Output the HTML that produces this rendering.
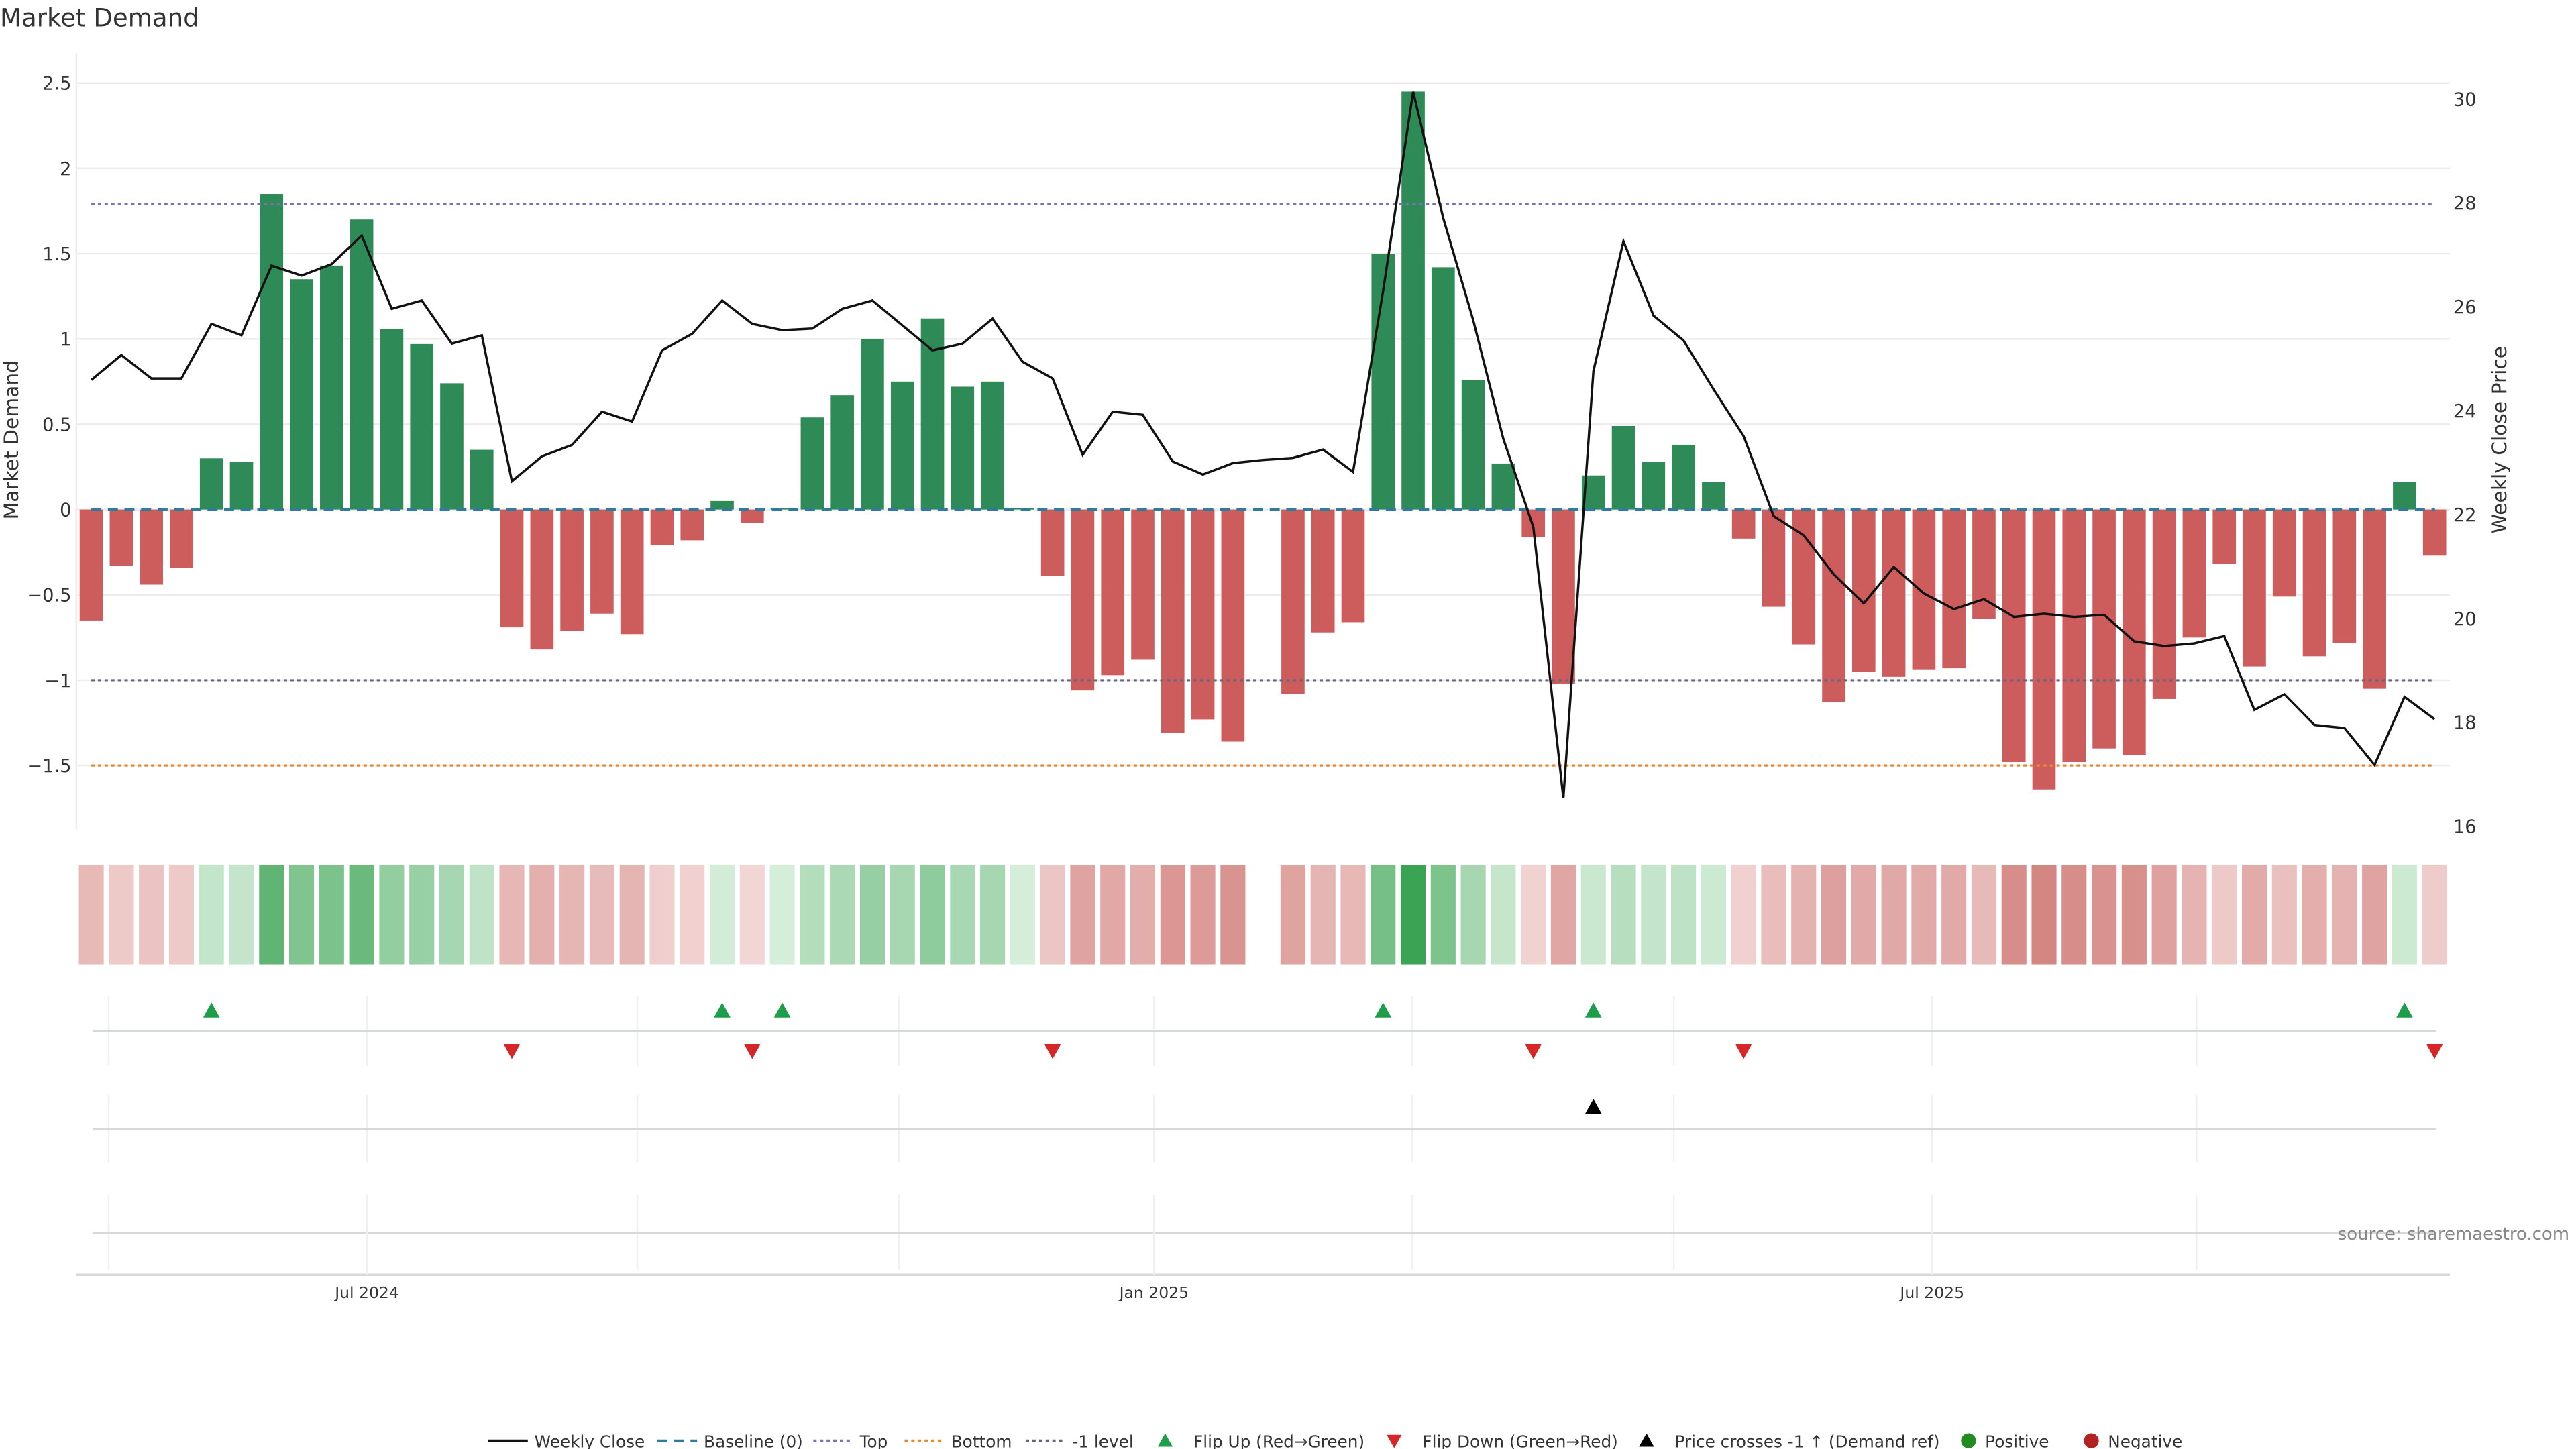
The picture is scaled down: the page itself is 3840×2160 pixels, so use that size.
<!DOCTYPE html>
<html><head><meta charset="utf-8"><style>
html,body{margin:0;padding:0;background:#fff;}
svg{display:block;font-family:"DejaVu Sans","Liberation Sans",sans-serif;}
</style></head><body>
<svg id="chart" width="3840" height="2160" viewBox="0 0 1552 873" preserveAspectRatio="none" xmlns="http://www.w3.org/2000/svg">
<text x="0" y="16" font-size="15" fill="#333">Market Demand</text>
<g id="main"></g>
<text transform="translate(11,265) rotate(-90)" text-anchor="middle" font-size="12" fill="#333">Market Demand</text>
<text transform="translate(1510,265) rotate(-90)" text-anchor="middle" font-size="12" fill="#333">Weekly Close Price</text>
<text x="1548" y="747" text-anchor="end" font-size="10.5" fill="#888">source: sharemaestro.com</text>
<g id="legend"></g>
</svg>
<script>
const demand=[-0.65,-0.33,-0.44,-0.34,0.30,0.28,1.85,1.35,1.43,1.70,1.06,0.97,0.74,0.35,-0.69,-0.82,-0.71,-0.61,-0.73,-0.21,-0.18,0.05,-0.08,0.01,0.54,0.67,1.00,0.75,1.12,0.72,0.75,0.01,-0.39,-1.06,-0.97,-0.88,-1.31,-1.23,-1.36,null,-1.08,-0.72,-0.66,1.50,2.45,1.42,0.76,0.27,-0.16,-1.02,0.20,0.49,0.28,0.38,0.16,-0.17,-0.57,-0.79,-1.13,-0.95,-0.98,-0.94,-0.93,-0.64,-1.48,-1.64,-1.48,-1.40,-1.44,-1.11,-0.75,-0.32,-0.92,-0.51,-0.86,-0.78,-1.05,0.16,-0.27];
const price=[24.59,25.07,24.62,24.62,25.67,25.45,26.79,26.6,26.82,27.37,25.96,26.12,25.29,25.45,22.64,23.12,23.34,23.98,23.79,25.16,25.48,26.12,25.67,25.55,25.58,25.96,26.12,25.64,25.16,25.29,25.77,24.94,24.62,23.15,23.98,23.92,23.02,22.77,22.99,23.05,23.09,23.25,22.82,26.3,30.14,27.71,25.74,23.46,21.76,16.54,24.76,27.26,25.83,25.35,24.41,23.51,21.97,21.6,20.85,20.29,20.99,20.48,20.18,20.37,20.03,20.09,20.03,20.07,19.56,19.47,19.52,19.66,18.24,18.54,17.95,17.89,17.18,18.49,18.06];
const yTicks=[-1.5,-1,-0.5,0,0.5,1,1.5,2,2.5];
const y2Ticks=[16,18,20,22,24,26,28,30];
const flipUp=[4,21,23,43,50,77];
const flipDown=[14,22,32,48,55,78];
const priceCross=[50];
const levels={top:1.79,bottom:-1.5,minus1:-1};
const monthLabels=["Jul 2024","Jan 2025","Jul 2025"];
const monthPos=[8.9,35.1,61.0];
const gridMonths=[0.3,8.9,17.9,26.6,35.1,43.7,52.4,61.0,69.8];

const NS="http://www.w3.org/2000/svg";
function el(t,a,p){const e=document.createElementNS(NS,t);for(const k in a)e.setAttribute(k,a[k]);p.appendChild(e);return e;}
const X=i=>55+i*18.1;
const Y=v=>307-v*102.8;
const Y2=p=>310-(p-22)*31.3;
const main=document.getElementById('main');

yTicks.forEach(t=>{
  const g=el('line',{x1:46,x2:1476,y1:Y(t),y2:Y(t),stroke:'#ececec','stroke-width':1},main);
  
  
  const tx=el('text',{x:43,y:Y(t)+4,'text-anchor':'end','font-size':11,fill:'#333'},main);
  tx.textContent=String(t).replace('-','−');
  
  
});
y2Ticks.forEach(t=>{
  const tx=el('text',{x:1478,y:Y2(t)+4,'font-size':11,fill:'#333'},main);
  tx.textContent=t;
  
  
});
el('line',{x1:46,x2:46,y1:32,y2:500,stroke:'#ececec'},main);

demand.forEach((v,i)=>{
  if(v===null)return;
  const y0=Y(0),y1=Y(v);
  const r=el('rect',{x:X(i)-7,y:Math.min(y0,y1),width:14,height:Math.max(0.6,Math.abs(y1-y0)),fill:v>=0?'#2e8b57':'#cd5c5c'},main);
  
  
});
function hl(v,col,dash,name,w){const l=el('line',{x1:55,x2:1467,y1:Y(v),y2:Y(v),stroke:col,'stroke-width':w||1.3,'stroke-dasharray':dash},main);
  
  }
hl(levels.top,'#7b6fb5','2 2','top-level-line');
hl(levels.minus1,'#666677','2 2','minus1-level-line');
hl(levels.bottom,'#e8892b','2 2','bottom-level-line');
hl(0,'#2f7a9e','6 4','baseline-line',1.4);

const pl=el('polyline',{points:price.map((p,i)=>X(i)+','+Y2(p)).join(' '),fill:'none',stroke:'#111','stroke-width':1.4},main);



function lerp(a,b,t){return a.map((c,k)=>Math.round(c+(b[k]-c)*t));}
demand.forEach((v,i)=>{
  if(v===null)return;
  let c;
  if(v>=0)c=lerp([214,238,218],[58,163,84],Math.min(1,v/2.45));
  else c=lerp([243,218,217],[212,134,131],Math.min(1,-v/1.64));
  const r=el('rect',{x:X(i)-7.5,y:521,width:15,height:60,fill:'rgb('+c.join(',')+')'},main);
  
  
});

const mx=m=>55+m*18.1;
[[600,642],[660,700],[720,765]].forEach(([a,b])=>{
  gridMonths.forEach(m=>{const l=el('line',{x1:mx(m)+5,x2:mx(m)+5,y1:a,y2:b,stroke:'#f0f0f0'},main);
    
    });
});
[[621],[680],[743]].forEach(([y])=>{const l=el('line',{x1:56,x2:1468,y1:y,y2:y,stroke:'#d6d9da','stroke-width':1.2},main);
  
  });
function tri(x,y,up,col,name){const s=5;
  const p=up?`${x},${y-s} ${x-s},${y+s*0.8} ${x+s},${y+s*0.8}`:`${x},${y+s} ${x-s},${y-s*0.8} ${x+s},${y-s*0.8}`;
  const t=el('polygon',{points:p,fill:col},main);
  
  }
flipUp.forEach(i=>tri(X(i),609,true,'#1e9e4a','flip-up-marker'));
flipDown.forEach(i=>tri(X(i),633,false,'#d62728','flip-down-marker'));
priceCross.forEach(i=>tri(X(i),667,true,'#000','price-cross-marker'));

el('line',{x1:46,x2:1476,y1:768,y2:768,stroke:'#d6d9da','stroke-width':1.4},main);
monthLabels.forEach((s,k)=>{
  const x=mx(monthPos[k])+5;
  el('line',{x1:x,x2:x,y1:720,y2:768,stroke:'#f0f0f0'},main);
  const t=el('text',{x:x,y:782,'text-anchor':'middle','font-size':9.5,fill:'#333'},main);
  t.textContent=s;
  
  
});

const lg=document.getElementById('legend');
const items=[
 {x:294,type:'line',col:'#111',dash:'',label:'Weekly Close'},
 {x:396,type:'line',col:'#2f7a9e',dash:'6 4',label:'Baseline (0)'},
 {x:490,type:'line',col:'#7b6fb5',dash:'2 2',label:'Top'},
 {x:545,type:'line',col:'#e8892b',dash:'2 2',label:'Bottom'},
 {x:618,type:'line',col:'#666677',dash:'2 2',label:'-1 level'},
 {x:696,type:'up',col:'#1e9e4a',label:'Flip Up (Red→Green)'},
 {x:834,type:'down',col:'#d62728',label:'Flip Down (Green→Red)'},
 {x:986,type:'up',col:'#000',label:'Price crosses -1 ↑ (Demand ref)'},
 {x:1180,type:'dot',col:'#228b22',label:'Positive'},
 {x:1254,type:'dot',col:'#b22222',label:'Negative'}];
items.forEach(it=>{
  const g=el('g',{},lg);
  
  
  const y=868;let tx;
  if(it.type==='line'){el('line',{x1:it.x,x2:it.x+24,y1:y,y2:y,stroke:it.col,'stroke-width':1.5,'stroke-dasharray':it.dash},g);tx=it.x+28;}
  else if(it.type==='dot'){el('circle',{cx:it.x+6,cy:y,r:4.5,fill:it.col},g);tx=it.x+16;}
  else{const s=4.5,x=it.x+6;const p=it.type==='up'?`${x},${y-s} ${x-s},${y+s*0.8} ${x+s},${y+s*0.8}`:`${x},${y+s} ${x-s},${y-s*0.8} ${x+s},${y-s*0.8}`;el('polygon',{points:p,fill:it.col},g);tx=it.x+23;}
  const t=el('text',{x:tx,y:y+4,'font-size':10,fill:'#333'},g);t.textContent=it.label;
});
</script>
</body></html>
